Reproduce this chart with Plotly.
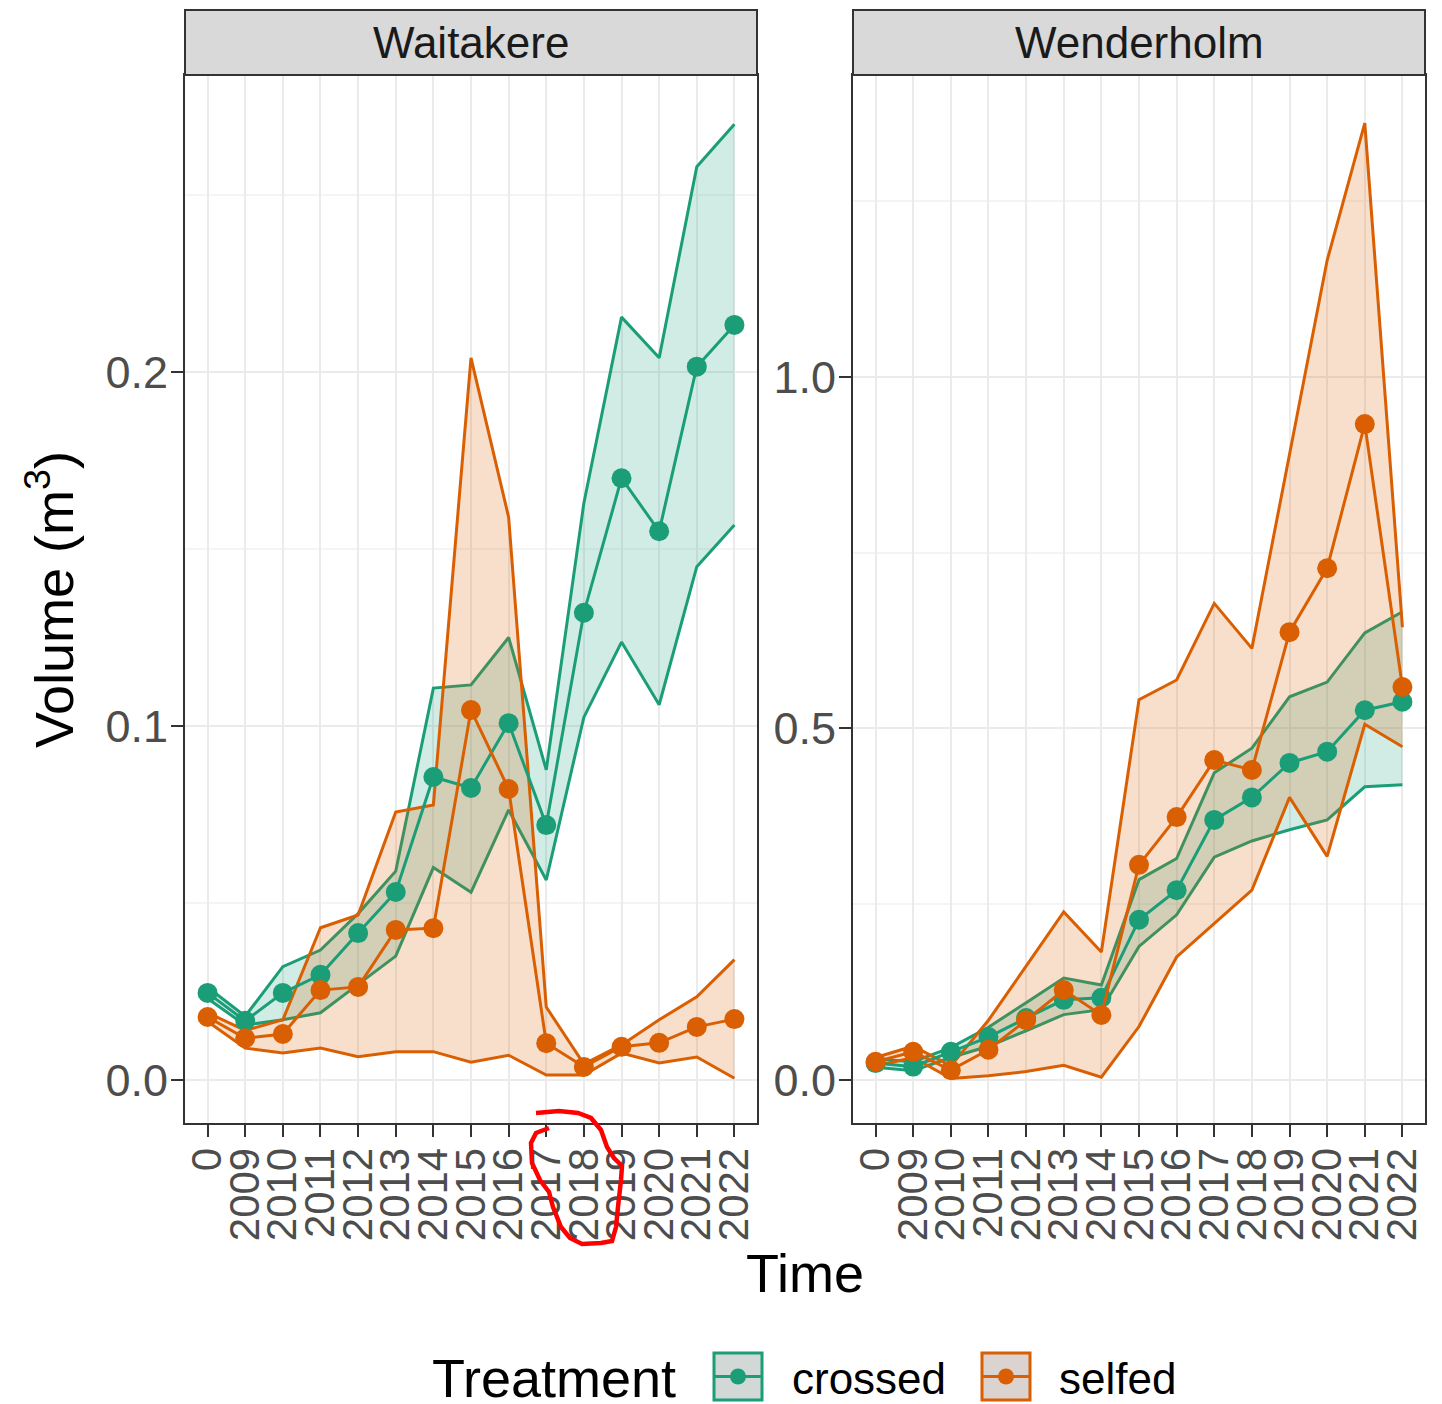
import plotly.graph_objects as go

# ---------------- data ----------------
years = ["0", "2009", "2010", "2011", "2012", "2013", "2014", "2015", "2016",
         "2017", "2018", "2019", "2020", "2021", "2022"]

# Waitakere
wai_crossed_mean  = [0.0246, 0.0167, 0.0246, 0.0297, 0.0415, 0.0531, 0.0856, 0.0825, 0.1008, 0.0720, 0.1320, 0.1700, 0.1550, 0.2015, 0.2133]
wai_crossed_upper = [0.0262, 0.0180, 0.0320, 0.0367, 0.0470, 0.0590, 0.1107, 0.1116, 0.1250, 0.0876, 0.1630, 0.2155, 0.2040, 0.2580, 0.2700]
wai_crossed_lower = [0.0230, 0.0155, 0.0170, 0.0190, 0.0270, 0.0350, 0.0600, 0.0530, 0.0763, 0.0565, 0.1025, 0.1237, 0.1060, 0.1450, 0.1568]
wai_selfed_mean   = [0.0178, 0.0118, 0.0130, 0.0254, 0.0263, 0.0424, 0.0429, 0.1045, 0.0822, 0.0104, 0.0037, 0.0094, 0.0105, 0.0150, 0.0172]
wai_selfed_upper  = [0.0190, 0.0140, 0.0170, 0.0430, 0.0466, 0.0757, 0.0777, 0.2040, 0.1590, 0.0206, 0.0045, 0.0099, 0.0170, 0.0235, 0.0340]
wai_selfed_lower  = [0.0165, 0.0090, 0.0076, 0.0090, 0.0066, 0.0080, 0.0080, 0.0050, 0.0070, 0.0014, 0.0014, 0.0076, 0.0048, 0.0065, 0.0005]

# Wenderholm
wen_crossed_mean  = [0.024, 0.019, 0.040, 0.061, 0.088, 0.114, 0.117, 0.228, 0.270, 0.370, 0.402, 0.451, 0.467, 0.526, 0.538]
wen_crossed_upper = [0.030, 0.026, 0.046, 0.075, 0.110, 0.145, 0.135, 0.285, 0.315, 0.437, 0.472, 0.545, 0.566, 0.636, 0.666]
wen_crossed_lower = [0.018, 0.013, 0.032, 0.048, 0.070, 0.093, 0.100, 0.190, 0.235, 0.317, 0.340, 0.356, 0.370, 0.417, 0.420]
wen_selfed_mean   = [0.026, 0.040, 0.014, 0.043, 0.085, 0.128, 0.0925, 0.306, 0.374, 0.455, 0.441, 0.637, 0.728, 0.933, 0.559]
wen_selfed_upper  = [0.032, 0.048, 0.020, 0.085, 0.162, 0.239, 0.182, 0.541, 0.569, 0.678, 0.614, 0.890, 1.166, 1.361, 0.644]
wen_selfed_lower  = [0.020, 0.032, 0.002, 0.006, 0.012, 0.021, 0.004, 0.076, 0.175, 0.223, 0.270, 0.402, 0.318, 0.506, 0.474]

panels = ["Waitakere", "Wenderholm"]
treatments = ["crossed", "selfed"]

# ---------------- style ----------------
COL = {"crossed": "#1b9e77", "selfed": "#d95f02"}
FILL = {"crossed": "rgba(27,158,119,0.2)", "selfed": "rgba(217,95,2,0.2)"}
FONT = "Liberation Sans, Arial, sans-serif"
LW = 3

W, H = 1442, 1404
ML, MR, MT, MB = 185, 17, 75, 281
PW, PH = W - ML - MR, H - MT - MB


def px(x):
    return (x - ML) / PW


def py(y):
    return (H - MB - y) / PH


fig = go.Figure()

data = {
    "Waitakere": {
        "crossed": (wai_crossed_lower, wai_crossed_upper, wai_crossed_mean),
        "selfed": (wai_selfed_lower, wai_selfed_upper, wai_selfed_mean),
    },
    "Wenderholm": {
        "crossed": (wen_crossed_lower, wen_crossed_upper, wen_crossed_mean),
        "selfed": (wen_selfed_lower, wen_selfed_upper, wen_selfed_mean),
    },
}

for i, p in enumerate(panels):
    xa = "x" if i == 0 else "x2"
    ya = "y" if i == 0 else "y2"
    for t in treatments:
        lo, up, _ = data[p][t]
        fig.add_trace(go.Scatter(x=years, y=lo, mode="lines", xaxis=xa, yaxis=ya,
                                 line=dict(color=COL[t], width=LW), showlegend=False,
                                 hoverinfo="skip"))
        fig.add_trace(go.Scatter(x=years, y=up, mode="lines", xaxis=xa, yaxis=ya,
                                 fill="tonexty", fillcolor=FILL[t],
                                 line=dict(color=COL[t], width=LW), showlegend=False,
                                 hoverinfo="skip"))
    for t in treatments:
        _, _, mn = data[p][t]
        fig.add_trace(go.Scatter(x=years, y=mn, mode="lines+markers", xaxis=xa, yaxis=ya,
                                 line=dict(color=COL[t], width=LW),
                                 marker=dict(color=COL[t], size=20),
                                 name=t, showlegend=False))

GRID = "#ebebeb"
common_x = dict(type="category", categoryorder="array", categoryarray=years,
                range=[-0.6, len(years) - 0.4], tickmode="linear", tick0=0, dtick=1,
                showgrid=True, gridcolor=GRID, gridwidth=2,
                showline=True, mirror=True, linecolor="#333333", linewidth=2,
                ticks="outside", ticklen=12, tickwidth=2, tickcolor="#333333",
                tickangle=-90, tickfont=dict(family=FONT, size=42, color="#4d4d4d"),
                ticklabelstandoff=-6,
                zeroline=False, fixedrange=True)
common_y = dict(showgrid=True, gridcolor=GRID, gridwidth=2,
                showline=True, mirror=True, linecolor="#333333", linewidth=2,
                ticks="outside", ticklen=12, tickwidth=2, tickcolor="#333333",
                tickfont=dict(family=FONT, size=45, color="#4d4d4d"),
                ticklabelstandoff=-6,
                tickformat=".1f", zeroline=False, fixedrange=True)

dom_left = [0, px(757)]
dom_right = [px(853), 1]

fig.update_layout(
    width=W, height=H, autosize=False,
    margin=dict(l=ML, r=MR, t=MT, b=MB, pad=0),
    paper_bgcolor="white", plot_bgcolor="white",
    font=dict(family=FONT, color="#000000"),
    showlegend=False,
    xaxis=dict(common_x, domain=dom_left, anchor="y"),
    xaxis2=dict(common_x, domain=dom_right, anchor="y2"),
    yaxis=dict(common_y, domain=[0, 1], anchor="x", range=[-0.01215, 0.2839],
               dtick=0.1, tick0=0,
               minor=dict(dtick=0.05, showgrid=True, gridcolor="#f4f4f4", gridwidth=1.5)),
    yaxis2=dict(common_y, domain=[0, 1], anchor="x2", range=[-0.0612, 1.4296],
                dtick=0.5, tick0=0,
                minor=dict(dtick=0.25, showgrid=True, gridcolor="#f4f4f4", gridwidth=1.5)),
)

shapes = []
annotations = []

# facet strips
for p, (x0, x1) in zip(panels, [(185, 757), (853, 1425)]):
    shapes.append(dict(type="rect", xref="paper", yref="paper",
                       x0=px(x0), x1=px(x1), y0=py(75), y1=py(10),
                       fillcolor="#d9d9d9", line=dict(color="#333333", width=2), layer="above"))
    annotations.append(dict(text=p, xref="paper", yref="paper", x=px((x0 + x1) / 2), y=py(43),
                            xanchor="center", yanchor="middle", showarrow=False,
                            font=dict(family=FONT, size=44, color="#1a1a1a")))

# axis titles
annotations.append(dict(text="Time", xref="paper", yref="paper", x=px(805), y=py(1273),
                        xanchor="center", yanchor="middle", showarrow=False,
                        font=dict(family=FONT, size=54, color="#000000")))
annotations.append(dict(text="Volume (m<sup>3</sup>)", xref="paper", yref="paper", x=px(50), y=py(600),
                        xanchor="center", yanchor="middle", showarrow=False, textangle=-90,
                        font=dict(family=FONT, size=54, color="#000000")))

# legend (drawn manually, ggplot style)
annotations.append(dict(text="Treatment", xref="paper", yref="paper", x=px(430), y=py(1378),
                        xanchor="left", yanchor="middle", showarrow=False,
                        font=dict(family=FONT, size=54, color="#000000")))
key_boxes = {"crossed": (714, 762, "#d2d8d5", 790), "selfed": (982, 1030, "#dad3cf", 1057)}
for t in treatments:
    k0, k1, bg, tx = key_boxes[t]
    ky0, ky1 = 1353, 1400
    cy = (ky0 + ky1) / 2
    cx = (k0 + k1) / 2
    shapes.append(dict(type="rect", xref="paper", yref="paper",
                       x0=px(k0), x1=px(k1), y0=py(ky1), y1=py(ky0),
                       fillcolor=bg, line=dict(color=COL[t], width=3)))
    shapes.append(dict(type="line", xref="paper", yref="paper",
                       x0=px(k0), x1=px(k1), y0=py(cy), y1=py(cy),
                       line=dict(color=COL[t], width=LW)))
    r = 8
    shapes.append(dict(type="circle", xref="paper", yref="paper",
                       x0=px(cx - r), x1=px(cx + r), y0=py(cy + r), y1=py(cy - r),
                       fillcolor=COL[t], line=dict(color=COL[t], width=0)))
    annotations.append(dict(text=t, xref="paper", yref="paper", x=px(tx), y=py(1378),
                            xanchor="left", yanchor="middle", showarrow=False,
                            font=dict(family=FONT, size=44, color="#000000")))

# hand-drawn red mark around the 2017/2018 labels
mark_px = [(536, 1113), (559, 1111), (578, 1113), (591, 1118), (601, 1130), (607, 1147),
           (614, 1158), (622, 1166), (621, 1180), (618, 1207), (616, 1227), (612, 1241),
           (601, 1243), (582, 1244), (570, 1238), (561, 1227), (553, 1207), (549, 1192),
           (540, 1180), (532, 1163), (531, 1143), (536, 1133), (549, 1128)]
path = "M " + " L ".join(f"{px(a):.5f},{py(b):.5f}" for a, b in mark_px)
shapes.append(dict(type="path", xref="paper", yref="paper", path=path,
                   line=dict(color="#ff0000", width=4.5), layer="above"))

fig.update_layout(shapes=shapes, annotations=annotations)

fig.write_html("out.html")
